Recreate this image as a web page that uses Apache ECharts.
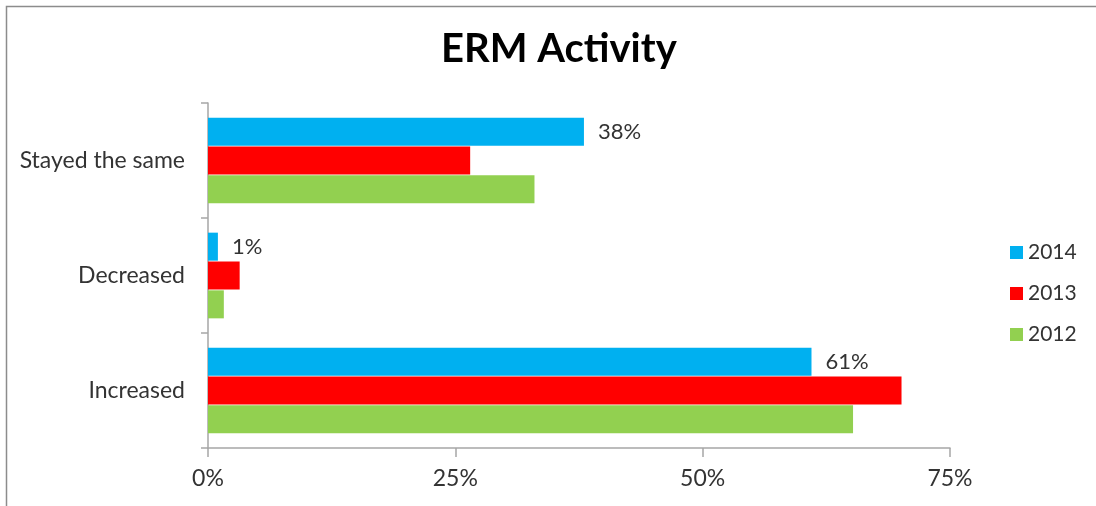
<!DOCTYPE html>
<html>
<head>
<meta charset="utf-8">
<title>ERM Activity</title>
<script src="https://cdn.jsdelivr.net/npm/echarts@6/dist/echarts.min.js"></script>
<style>
  html, body { margin: 0; padding: 0; background: #fff; }
  #chart { width: 1096px; height: 506px; }
</style>
</head>
<body>
<div id="chart"></div>
<script>
// Categories listed bottom to top (category y axis starts at the bottom)
const categories = ['Increased', 'Decreased', 'Stayed the same'];
const years = ['2014', '2013', '2012'];
const values2014 = [61, 1, 38];
const values2013 = [70.1, 3.2, 26.5];
const values2012 = [65.2, 1.6, 33.0];
const xTicks = [0, 25, 50, 75];

const colors = { '2014': '#00B0F0', '2013': '#FF0000', '2012': '#92D050' };
const font = 'Lato, "Liberation Sans", sans-serif';

document.addEventListener('DOMContentLoaded', function() {
    const chart = echarts.init(document.getElementById('chart'));

    function barSeries(name, data, withLabel) {
        return {
            name: name,
            type: 'bar',
            data: data,
            barWidth: 28,
            barGap: '3%',
            itemStyle: { color: colors[name] },
            label: {
                show: withLabel,
                position: 'right',
                distance: 14,
                formatter: '{c}%',
                fontFamily: font,
                fontSize: 22,
                color: '#333'
            },
            emphasis: { disabled: true }
        };
    }

    const option = {
        animation: false,
        title: {
            text: 'ERM Activity',
            left: 436,
            top: 24,
            textStyle: {
                fontFamily: font,
                fontSize: 40,
                fontWeight: 'bold',
                color: '#000'
            }
        },
        legend: {
            data: years,
            orient: 'vertical',
            left: 1005,
            top: 237,
            itemWidth: 13,
            itemHeight: 13,
            itemGap: 20,
            icon: 'rect',
            textStyle: { fontFamily: font, fontSize: 21, color: '#333' }
        },
        grid: {
            left: 208,
            right: 146,
            top: 103,
            bottom: 58
        },
        xAxis: {
            type: 'value',
            min: xTicks[0],
            max: xTicks[xTicks.length - 1],
            interval: 25,
            axisLine: { show: true, lineStyle: { color: '#a6a6a6', width: 1.5 } },
            axisTick: { show: true, length: 9, lineStyle: { color: '#a6a6a6', width: 1.5 } },
            splitLine: { show: false },
            axisLabel: {
                formatter: '{value}%',
                margin: 19,
                fontFamily: font,
                fontSize: 23,
                color: '#333'
            }
        },
        yAxis: {
            type: 'category',
            data: categories,
            axisLine: { show: true, lineStyle: { color: '#a6a6a6', width: 1.5 } },
            axisTick: { show: true, length: 7, lineStyle: { color: '#a6a6a6', width: 1.5 } },
            axisLabel: {
                margin: 23,
                fontFamily: font,
                fontSize: 23,
                color: '#333'
            }
        },
        graphic: [{
            type: 'rect',
            shape: { x: 6.5, y: 6.5, width: 1200, height: 600 },
            style: { fill: 'none', stroke: '#8c8c8c', lineWidth: 1.5 },
            silent: true
        }],
        series: [
            barSeries('2014', values2014, true),
            barSeries('2013', values2013, false),
            barSeries('2012', values2012, false)
        ]
    };

    chart.setOption(option);

    window.addEventListener('resize', function() {
        chart.resize();
    });
});
</script>
</body>
</html>
